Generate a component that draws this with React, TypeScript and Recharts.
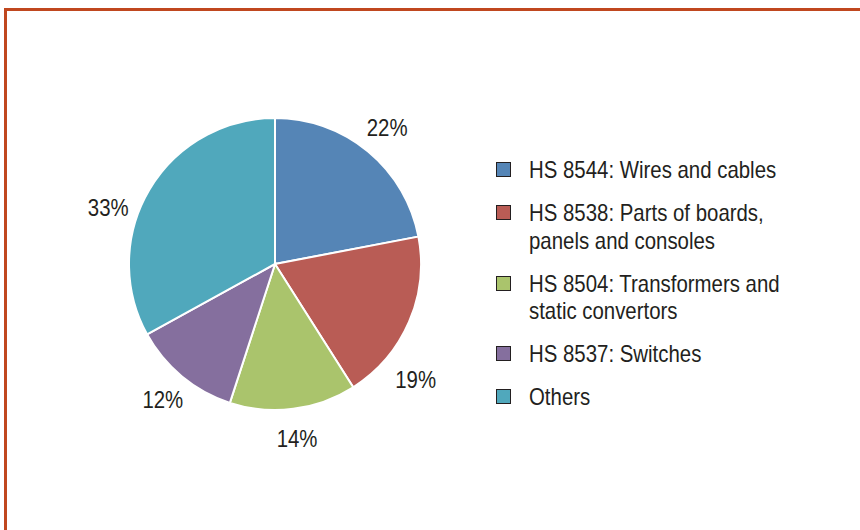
import { Legend, Pie, PieChart, Cell } from 'recharts'

const categories = [
  'HS 8544: Wires and cables',
  'HS 8538: Parts of boards, panels and consoles',
  'HS 8504: Transformers and static convertors',
  'HS 8537: Switches',
  'Others',
]
const shares = [22, 19, 14, 12, 33]
const colors = ['#5585b6', '#b95c55', '#aac46c', '#856f9e', '#50a8bc']

const data = categories.map((name, i) => ({ name, value: shares[i] }))

const FONT = '"Liberation Sans", Arial, sans-serif'
const TEXT = '#231f20'
const SQUEEZE = 0.85 // the original uses a condensed face
const RADIAN = Math.PI / 180
// small angle nudges so labels sit where the original puts them
const labelNudge = [0, -16, 0, 0, 12]

function renderLabel(props: any) {
  const { cx, cy, midAngle, index, value } = props
  const r = index === 1 ? 182 : 176
  const a = (midAngle + labelNudge[index]) * RADIAN
  const x = cx + r * Math.cos(a)
  const y = cy - r * Math.sin(a)
  return (
    <text
      x={0}
      y={0}
      transform={`translate(${x},${y}) scale(${SQUEEZE},1)`}
      textAnchor="middle"
      dominantBaseline="central"
      fill={TEXT}
      style={{ fontFamily: FONT, fontSize: 24 }}
    >
      {`${value}%`}
    </text>
  )
}

function LegendList() {
  return (
    <div style={{ fontFamily: FONT, fontSize: 24, color: TEXT, lineHeight: '27.5px' }}>
      {data.map((d, i) => (
        <div key={d.name} style={{ display: 'flex', alignItems: 'flex-start', marginBottom: 15.5 }}>
          <span
            style={{
              display: 'inline-block',
              width: 13,
              height: 13,
              background: colors[i],
              border: `1.5px solid ${TEXT}`,
              marginTop: 6,
              marginRight: 18,
              flexShrink: 0,
            }}
          />
          <span
            style={{
              display: 'inline-block',
              width: 310,
              transform: `scaleX(${SQUEEZE})`,
              transformOrigin: 'left top',
            }}
          >
            {d.name}
          </span>
        </div>
      ))}
    </div>
  )
}

export default function App() {
  return (
    <div style={{ position: 'relative', width: 860, height: 530, background: '#fff', overflow: 'hidden' }}>
      <style>{'body{margin:0}'}</style>
      <div
        style={{
          position: 'absolute',
          left: 4,
          top: 8,
          right: 0,
          bottom: 0,
          borderTop: '3px solid #c0471f',
          borderLeft: '3px solid #c0471f',
        }}
      />
      <PieChart
        width={860}
        height={530}
        margin={{ top: 0, right: 0, bottom: 0, left: 0 }}
        style={{ position: 'absolute', left: 0, top: 0 }}
      >
        <Pie
          data={data}
          dataKey="value"
          nameKey="name"
          cx={275}
          cy={264}
          outerRadius={146}
          startAngle={90}
          endAngle={-270}
          stroke="#ffffff"
          strokeWidth={2}
          label={renderLabel}
          labelLine={false}
          isAnimationActive={false}
        >
          {data.map((d, i) => (
            <Cell key={d.name} fill={colors[i]} />
          ))}
        </Pie>
        <Legend
          layout="vertical"
          content={() => <LegendList />}
          wrapperStyle={{ left: 496, top: 156, width: 350 }}
        />
      </PieChart>
    </div>
  )
}
